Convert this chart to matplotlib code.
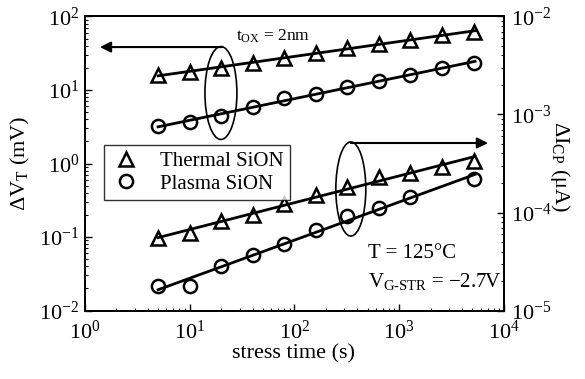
import numpy as np
import matplotlib
matplotlib.use("Agg")
import matplotlib.pyplot as plt
from matplotlib.lines import Line2D
from matplotlib.patches import Ellipse
from matplotlib.ticker import LogLocator, LogFormatterSciNotation, NullFormatter

plt.rcParams['font.family'] = ['Liberation Serif', 'DejaVu Serif']
plt.rcParams['mathtext.fontset'] = 'custom'
plt.rcParams['mathtext.rm'] = 'Liberation Serif'
plt.rcParams['mathtext.it'] = 'Liberation Serif:italic'
plt.rcParams['mathtext.bf'] = 'Liberation Serif:bold'

# ---- data ----
times = [5, 10, 20, 40, 80, 160, 320, 640, 1280, 2560, 5120]
vt_thermal = [16.0, 17.6, 20.2, 23.6, 27.2, 31.8, 36.9, 42.2, 47.9, 56.0, 62.1]
vt_plasma = [3.24, 3.67, 4.43, 5.87, 7.79, 8.82, 11.0, 13.3, 16.0, 19.9, 23.3]
icp_thermal = [5.46e-5, 6.22e-5, 8.18e-5, 9.54e-5, 1.22e-4, 1.51e-4,
               1.83e-4, 2.29e-4, 2.55e-4, 2.93e-4, 3.38e-4]
times_icp_plasma = [5, 10, 20, 40, 80, 160, 320, 640, 1280, 5120]
icp_plasma = [1.76e-5, 1.76e-5, 2.84e-5, 3.68e-5, 4.77e-5, 6.63e-5,
              9.14e-5, 1.10e-4, 1.43e-4, 2.18e-4]
legend_labels = ['Thermal SiON', 'Plasma SiON']
fit_range = [5, 5300]

fig = plt.figure(figsize=(5.85, 3.79), dpi=100)
ax = fig.add_axes([0.145, 0.1807, 0.7165, 0.7758])
ax2 = ax.twinx()

lw = 2.0
mew = 1.8


def fit_line(axis, t, y):
    p = np.polyfit(np.log10(t), np.log10(y), 1)
    tt = np.array(fit_range, dtype=float)
    axis.plot(tt, 10 ** np.polyval(p, np.log10(tt)), color='k', lw=lw, zorder=2)


for axis, t, y, m, ms in [(ax, times, vt_thermal, '^', 10.5),
                          (ax, times, vt_plasma, 'o', 9.5),
                          (ax2, times, icp_thermal, '^', 10.5),
                          (ax2, times_icp_plasma, icp_plasma, 'o', 9.5)]:
    fit_line(axis, t, y)
    axis.plot(t, y, linestyle='none', marker=m, ms=ms, mfc='none', mec='k',
              mew=mew, zorder=3)

ax.set_xscale('log')
ax.set_yscale('log')
ax2.set_yscale('log')
ax.set_xlim(1, 1e4)
ax.set_ylim(1e-2, 1e2)
ax2.set_ylim(1e-5, 1e-2)

for a in (ax, ax2):
    for s in a.spines.values():
        s.set_linewidth(1.3)

ax.xaxis.set_major_locator(LogLocator(base=10, numticks=10))
ax.xaxis.set_minor_locator(LogLocator(base=10, subs=np.arange(2, 10), numticks=10))
ax.xaxis.set_minor_formatter(NullFormatter())
for a in (ax, ax2):
    a.yaxis.set_major_locator(LogLocator(base=10, numticks=10))
    a.yaxis.set_minor_locator(LogLocator(base=10, subs=np.arange(2, 10), numticks=10))
    a.yaxis.set_minor_formatter(NullFormatter())

ax.tick_params(axis='x', which='both', direction='in', top=False, labelsize=16, pad=7)
ax.tick_params(axis='y', which='both', direction='in', right=False, labelsize=16, pad=4)
ax2.tick_params(axis='y', which='both', direction='in', left=False, labelsize=16, pad=5)
for a in (ax, ax2):
    a.tick_params(which='major', length=5, width=1.0)
    a.tick_params(which='minor', length=2.5, width=0.8)

ax.set_xlabel('stress time (s)', fontsize=16)
ax.xaxis.set_label_coords(0.497, -0.115)
ax.set_ylabel('ΔV$_\\mathrm{T}$ (mV)', fontsize=16)
ax.yaxis.set_label_coords(-0.125, 0.5)
ax2.set_ylabel('ΔI$_\\mathrm{CP}$ (μA)', fontsize=16, rotation=270, va='bottom')
ax2.yaxis.set_label_coords(1.105, 0.49)

# legend
handles = [Line2D([], [], linestyle='none', marker='^', ms=10.5, mfc='none', mec='k', mew=mew),
           Line2D([], [], linestyle='none', marker='o', ms=9.5, mfc='none', mec='k', mew=mew)]
leg = ax2.legend(handles, legend_labels, loc='upper left',
                 bbox_to_anchor=(0.046, 0.563), fontsize=15, frameon=True,
                 fancybox=False, edgecolor='k', borderpad=0.3, handletextpad=0.9,
                 labelspacing=0.15, handlelength=1.5, borderaxespad=0)
leg.get_frame().set_linewidth(1.0)

# ellipses and arrows
ax2.add_patch(Ellipse((0.3247, 0.7398), 0.0763, 0.316, transform=ax2.transAxes,
                      fill=False, lw=1.2, ec='k', zorder=4))
ax2.add_patch(Ellipse((0.6346, 0.4133), 0.0715, 0.320, transform=ax2.transAxes,
                      fill=False, lw=1.2, ec='k', zorder=4))
ax2.annotate('', xy=(0.036, 0.896), xytext=(0.327, 0.896), xycoords='axes fraction',
             arrowprops=dict(arrowstyle='-|>', color='k', lw=1.5, mutation_scale=16,
                             shrinkA=0, shrinkB=0))
ax2.annotate('', xy=(0.962, 0.5697), xytext=(0.6346, 0.5697), xycoords='axes fraction',
             arrowprops=dict(arrowstyle='-|>', color='k', lw=1.5, mutation_scale=16,
                             shrinkA=0, shrinkB=0))

ax2.text(0.360, 0.918, 't$_\\mathrm{OX}$ = 2nm', transform=ax2.transAxes,
         fontsize=12.5, va='baseline', ha='left')
ax2.text(0.675, 0.178, 'T = 125°C', transform=ax2.transAxes,
         fontsize=15, va='baseline', ha='left')
ax2.text(0.675, 0.081, 'V$_\\mathrm{G\\text{-}STR}$ = \u22122.7V', transform=ax2.transAxes,
         fontsize=15, va='baseline', ha='left')

fig.savefig('out.png', dpi=100)
